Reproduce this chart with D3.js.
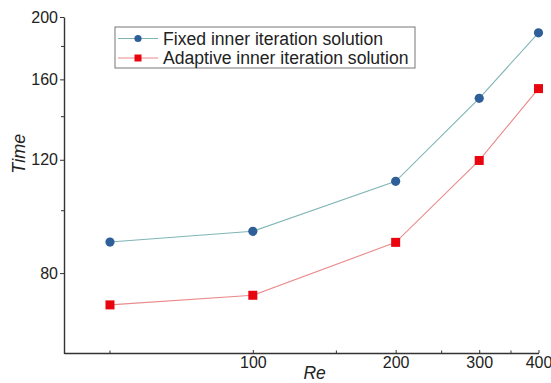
<!DOCTYPE html>
<html>
<head>
<meta charset="utf-8">
<script src="https://cdn.jsdelivr.net/npm/d3@7"></script>
<style>
  body { margin: 0; background: #fff; }
  text { font-family: "Liberation Sans", Arial, sans-serif; }
</style>
</head>
<body>
<div id="chart"></div>
<script>
// Re vs Time, two inner-iteration strategies (log-log)
var reValues = [50, 100, 200, 300, 400];
var fixedTime = [89.4, 92.9, 111.1, 149.5, 189.0];
var adaptiveTime = [71.4, 73.9, 89.3, 119.7, 154.8];
var seriesNames = ["Fixed inner iteration solution", "Adaptive inner iteration solution"];
var xTickLabels = [100, 200, 300, 400];
var xMinorTicks = [50, 150, 250, 350];
var yTickLabels = [80, 120, 160, 200];
var yMinorTicks = [100, 140, 180];

var svgWidth = 551, svgHeight = 383;
var margin = {top: 17, right: 13, bottom: 30, left: 64};
var width = svgWidth - margin.left - margin.right;
var height = svgHeight - margin.top - margin.bottom;

var svg = d3.select("#chart").append("svg")
  .attr("width", svgWidth)
  .attr("height", svgHeight)
  .append("g")
  .attr("transform", "translate(" + margin.left + "," + margin.top + ")");

var x = d3.scaleLog().domain([40, 400]).range([0, width + 0.5]);
var y = d3.scaleLog().domain([60, 200]).range([height + 0.5, 0]);

// axes
var xAxis = svg.append("g")
  .attr("transform", "translate(0," + height + ")")
  .call(d3.axisBottom(x).tickValues(xTickLabels).tickFormat(d3.format("d"))
    .tickSizeInner(-3).tickSizeOuter(0).tickPadding(4));
xAxis.append("g").selectAll("line")
  .data(xMinorTicks).enter().append("line")
  .attr("x1", function (d) { return x(d); })
  .attr("x2", function (d) { return x(d); })
  .attr("y1", 0).attr("y2", -2.5)
  .attr("stroke", "#333");

var yAxis = svg.append("g")
  .call(d3.axisLeft(y).tickValues(yTickLabels).tickFormat(d3.format("d"))
    .tickSizeInner(4).tickSizeOuter(0).tickPadding(2));
yAxis.append("g").selectAll("line")
  .data(yMinorTicks).enter().append("line")
  .attr("y1", function (d) { return y(d); })
  .attr("y2", function (d) { return y(d); })
  .attr("x1", 0).attr("x2", -3)
  .attr("stroke", "#333");

svg.selectAll(".domain").attr("stroke", "#333").attr("stroke-width", 1.4);
svg.selectAll(".tick line").attr("stroke", "#333");
svg.selectAll(".tick text")
  .attr("font-size", 16)
  .attr("font-family", "Liberation Sans, Arial, sans-serif")
  .attr("fill", "#222");

// axis titles
svg.append("text")
  .attr("x", x(135))
  .attr("y", height + 26)
  .attr("text-anchor", "middle")
  .attr("font-size", 17.5)
  .attr("font-style", "italic")
  .attr("fill", "#222")
  .text("Re");

svg.append("text")
  .attr("transform", "translate(" + (-39) + "," + (y(120) - 6) + ") rotate(-90)")
  .attr("text-anchor", "middle")
  .attr("font-size", 18)
  .attr("font-style", "italic")
  .attr("fill", "#222")
  .text("Time");

// lines
var line = function (vals) {
  return d3.line()
    .x(function (d, i) { return x(reValues[i]); })
    .y(function (d) { return y(d); })(vals);
};

svg.append("path").attr("d", line(fixedTime))
  .attr("fill", "none").attr("stroke", "#7fb5b5").attr("stroke-width", 1.1);
svg.append("path").attr("d", line(adaptiveTime))
  .attr("fill", "none").attr("stroke", "#ea8a8a").attr("stroke-width", 1.1);

svg.selectAll(".fixedDot")
  .data(fixedTime).enter().append("circle")
  .attr("class", "fixedDot")
  .attr("cx", function (d, i) { return x(reValues[i]); })
  .attr("cy", function (d) { return y(d); })
  .attr("r", 4.6)
  .attr("fill", "#2f5f99");

svg.selectAll(".adaptDot")
  .data(adaptiveTime).enter().append("rect")
  .attr("class", "adaptDot")
  .attr("x", function (d, i) { return x(reValues[i]) - 4.5; })
  .attr("y", function (d) { return y(d) - 4.5; })
  .attr("width", 9).attr("height", 9)
  .attr("fill", "#e8050f");

// legend
var legend = svg.append("g").attr("transform", "translate(" + 51 + "," + 10 + ")");
legend.append("rect")
  .attr("x", 0).attr("y", 0).attr("width", 300).attr("height", 41)
  .attr("fill", "#fff").attr("stroke", "#777").attr("stroke-width", 1);

var legendItems = [
  {name: seriesNames[0], line: "#7fb5b5", fill: "#2f5f99", shape: "circle"},
  {name: seriesNames[1], line: "#ea8a8a", fill: "#e8050f", shape: "square"}
];
legendItems.forEach(function (d, i) {
  var cy = 11.5 + i * 19.5;
  legend.append("line")
    .attr("x1", 3).attr("x2", 43).attr("y1", cy).attr("y2", cy)
    .attr("stroke", d.line).attr("stroke-width", 1.1);
  if (d.shape === "circle") {
    legend.append("circle").attr("cx", 23).attr("cy", cy).attr("r", 3.6).attr("fill", d.fill);
  } else {
    legend.append("rect").attr("x", 19.5).attr("y", cy - 3.5).attr("width", 7).attr("height", 7).attr("fill", d.fill);
  }
  legend.append("text")
    .attr("x", 48).attr("y", cy + 6)
    .attr("font-size", 17.6)
    .attr("fill", "#222")
    .text(d.name);
});
</script>
</body>
</html>
